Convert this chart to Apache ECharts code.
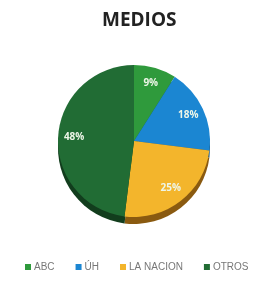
<!DOCTYPE html>
<html><head><meta charset="utf-8">
<script src="https://cdn.jsdelivr.net/npm/echarts@6/dist/echarts.min.js"></script>
<style>html,body{margin:0;padding:0;background:#fff}#c{width:255px;height:293px}</style>
</head><body><div id="c"></div>
<script>
const title = "MEDIOS";
const categories = ["ABC", "ÚH", "LA NACION", "OTROS"];
const values = [9, 18, 25, 48];
const colors = ["#2f9a3c", "#1b86d2", "#f3b52c", "#216c34"];
const edgeColors = ["#1d5e25", "#0f4f80", "#8a5a10", "#123d1d"];

const chart = echarts.init(document.getElementById('c'));
chart.setOption({
  animation: false,
  title: {text: title, left: 97, top: 6,
    textStyle: {fontFamily: 'Open Sans', fontSize: 19, fontWeight: 'bold', color: '#222'}},
  legend: {bottom: 16, left: 20, itemWidth: 6, itemHeight: 6, itemGap: 21, icon: 'rect',
    data: categories,
    textStyle: {fontFamily: 'Liberation Sans', fontSize: 10, color: '#777', padding: [0,0,0,-2]}},
  series: [
    {type: 'pie', silent: true, center: [134, 148], radius: 76, startAngle: 90, clockwise: true,
     label: {show: false}, labelLine: {show: false},
     data: categories.map((c, i) => ({name: c + ' ', value: values[i], itemStyle: {color: edgeColors[i]}})),
     legendHoverLink: false},
    {type: 'pie', center: [134, 141], radius: 76, startAngle: 90, clockwise: true,
     itemStyle: {borderWidth: 0},
     label: {show: false}, labelLine: {show: false},
     data: categories.map((c, i) => ({name: c, value: values[i], itemStyle: {color: colors[i]}}))},
    {type: 'pie', silent: true, center: [134, 141], radius: [38, 76], startAngle: 90, clockwise: true,
     itemStyle: {color: 'rgba(0,0,0,0)', borderWidth: 0},
     label: {show: true, position: 'inner', formatter: '{c}%', color: '#eef6e8',
       fontFamily: 'Open Sans', fontSize: 10, fontWeight: 'bold'},
     labelLine: {show: false},
     data: categories.map((c, i) => ({name: c + '  ', value: values[i]}))}
  ]
});
</script></body></html>
